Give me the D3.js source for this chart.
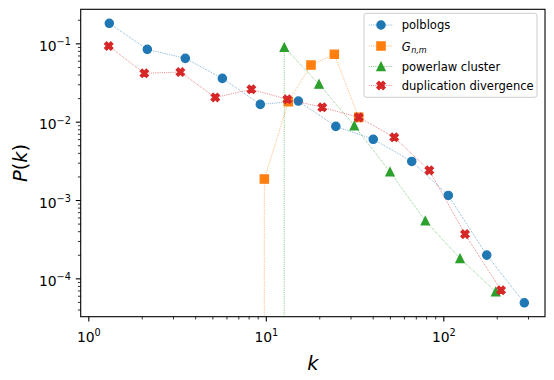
<!DOCTYPE html>
<html><head><meta charset="utf-8">
<script src="https://cdn.jsdelivr.net/npm/d3@7"></script>
<style>body{margin:0;background:#fff} svg{display:block}</style>
</head><body><svg id="c" width="554" height="380"></svg>
<script>
// ---- data ----
const polblogsK = [1.313, 2.15, 3.52, 5.69, 9.31, 15.25, 24.8, 40.3, 66.4, 106.7, 175.7, 285.9];
const polblogsP = [0.180, 0.0838, 0.0643, 0.0357, 0.01663, 0.01832, 0.00871, 0.00596, 0.00311, 0.001145, 0.000198, 4.87e-5];
const gnmK = [7.22, 9.81, 13.39, 17.97, 24.32, 33.38];
const gnmP = [0, 0.00185, 0.01795, 0.0528, 0.0724, 0.01135];
const plcK = [8.05, 12.71, 19.94, 31.5, 50.1, 79.2, 124.2, 197.4];
const plcP = [0, 0.0889, 0.0302, 0.00887, 0.00229, 0.000542, 0.0001795, 6.73e-5];
const ddK = [1.303, 2.068, 3.30, 5.19, 8.29, 13.22, 20.8, 33.4, 52.9, 83.4, 132.5, 211.4];
const ddP = [0.0924, 0.0414, 0.0430, 0.0204, 0.0259, 0.0193, 0.01524, 0.01135, 0.00632, 0.00239, 0.000367, 7.06e-5];
const seriesNames = ["polblogs", "G", "powerlaw cluster", "duplication divergence"];
const xTickValues = [1, 10, 100];
const xTickExponents = ["0", "1", "2"];
const yTickValues = [1e-4, 1e-3, 1e-2, 1e-1];
const yTickExponents = ["\u22124", "\u22123", "\u22122", "\u22121"];
const xDomain = [0.906, 374];
const yDomain = [3.24e-5, 0.272];

// ---- layout ----
const L = 80.7, R = 545, T = 9.3, B = 316.7;
const svg = d3.select("#c");
const FONT = "DejaVu Sans, sans-serif";
const x = d3.scaleLog().domain(xDomain).range([L, R]);
const y = d3.scaleLog().domain(yDomain).range([B, T]);

const colors = ["#1f77b4", "#ff7f0e", "#2ca02c", "#d62728"];
const shapes = ["circle", "square", "triangle", "x"];
const series = [
  {k: polblogsK, p: polblogsP},
  {k: gnmK, p: gnmP},
  {k: plcK, p: plcP},
  {k: ddK, p: ddP}
];

const MS = 8.33; // marker size px
function markerPath(shape, s) {
  const h = s / 2;
  if (shape === "circle") return `M${h},0A${h},${h} 0 1,1 ${-h},0A${h},${h} 0 1,1 ${h},0Z`;
  if (shape === "square") return `M${-h},${-h}H${h}V${h}H${-h}Z`;
  if (shape === "triangle") return `M0,${-h}L${h},${h}L${-h},${h}Z`;
  const v = [[-1,-2],[0,-1],[1,-2],[2,-1],[1,0],[2,1],[1,2],[0,1],[-1,2],[-2,1],[-1,0],[-2,-1]];
  return "M" + v.map(d => [d[0]*s/4, d[1]*s/4].join(",")).join("L") + "Z";
}

svg.append("defs").append("clipPath").attr("id", "clip")
  .append("rect").attr("x", L).attr("y", T).attr("width", R - L).attr("height", B - T);

const plot = svg.append("g").attr("clip-path", "url(#clip)");
const yv = p => p > 0 ? y(p) : B + 1e5;

series.forEach((s, i) => {
  const pts = s.k.map((k, j) => [x(k), yv(s.p[j])]);
  plot.append("path")
    .attr("d", d3.line()(pts))
    .attr("fill", "none").attr("stroke", colors[i])
    .attr("stroke-width", 0.7).attr("stroke-dasharray", "0.7,1.15");
  plot.append("g").selectAll("path")
    .data(s.k.map((k, j) => [k, s.p[j]]).filter(d => d[1] > 0))
    .join("path")
    .attr("transform", d => `translate(${x(d[0])},${y(d[1])})`)
    .attr("d", markerPath(shapes[i], MS))
    .attr("fill", colors[i]).attr("stroke", colors[i]).attr("stroke-width", 1.2)
    .attr("stroke-linejoin", shapes[i] === "circle" ? "round" : "miter");
});

// ---- axes ----
function minorTicks(lo, hi) {
  const out = [];
  for (let e = -6; e <= 3; e++) for (let m = 2; m <= 9; m++) {
    const v = m * Math.pow(10, e);
    if (v >= lo && v <= hi) out.push(v);
  }
  return out;
}
const xMinor = svg.append("g").attr("transform", `translate(0,${B})`)
  .call(d3.axisBottom(x).tickValues(minorTicks(xDomain[0], xDomain[1])).tickFormat("").tickSizeInner(2.8).tickSizeOuter(0));
const xMajor = svg.append("g").attr("transform", `translate(0,${B})`)
  .call(d3.axisBottom(x).tickValues(xTickValues).tickSizeInner(4.9).tickSizeOuter(0).tickPadding(4.9));
const yMinor = svg.append("g").attr("transform", `translate(${L},0)`)
  .call(d3.axisLeft(y).tickValues(minorTicks(yDomain[0], yDomain[1])).tickFormat("").tickSizeInner(2.8).tickSizeOuter(0));
const yMajor = svg.append("g").attr("transform", `translate(${L},0)`)
  .call(d3.axisLeft(y).tickValues(yTickValues).tickSizeInner(4.9).tickSizeOuter(0).tickPadding(4.9));
[xMinor, xMajor, yMinor, yMajor].forEach(g => {
  g.select(".domain").remove();
  g.selectAll("line").attr("stroke", "#000");
});
xMinor.selectAll("line").attr("stroke-width", 0.8);
yMinor.selectAll("line").attr("stroke-width", 0.8);
xMajor.selectAll("line").attr("stroke-width", 1.1);
yMajor.selectAll("line").attr("stroke-width", 1.1);

xMajor.selectAll("text").each(function(d, i) {
  const t = d3.select(this);
  t.text(null).attr("dy", null).attr("y", 342).attr("transform", `translate(0,${-B})`)
    .attr("font-family", FONT).attr("font-size", 13.9).attr("fill", "#000").attr("text-anchor", "middle");
  t.append("tspan").text("10");
  t.append("tspan").attr("dy", -5.8).attr("font-size", 9.7).text(xTickExponents[i]);
});
yMajor.selectAll("text").each(function(d, i) {
  const t = d3.select(this);
  t.text(null).attr("dy", 7.3)
    .attr("font-family", FONT).attr("font-size", 13.9).attr("fill", "#000").attr("text-anchor", "end");
  t.append("tspan").text("10");
  t.append("tspan").attr("dy", -5.8).attr("font-size", 9.7).text(yTickExponents[i]);
});

// spines
svg.append("rect").attr("x", L).attr("y", T).attr("width", R - L).attr("height", B - T)
  .attr("fill", "none").attr("stroke", "#000").attr("stroke-width", 1.1);

// axis labels
svg.append("text").attr("x", (L + R) / 2).attr("y", 370).attr("text-anchor", "middle")
  .attr("font-family", FONT).attr("font-style", "italic").attr("font-size", 19.4).text("k");
const yl = svg.append("text").attr("transform", `translate(27,${(T + B) / 2}) rotate(-90)`)
  .attr("text-anchor", "middle").attr("font-family", FONT).attr("font-size", 19.4);
yl.append("tspan").attr("font-style", "italic").text("P");
yl.append("tspan").text("(");
yl.append("tspan").attr("font-style", "italic").text("k");
yl.append("tspan").text(")");

// ---- legend ----
const lg = svg.append("g");
lg.append("rect").attr("x", 364).attr("y", 13.3).attr("width", 173).attr("height", 84)
  .attr("rx", 2.5).attr("fill", "#fff").attr("fill-opacity", 0.8)
  .attr("stroke", "#cccccc").attr("stroke-width", 1);
const rowY = [25, 46, 66.5, 85.5];
seriesNames.forEach((name, i) => {
  const cy = rowY[i];
  lg.append("line").attr("x1", 369.3).attr("x2", 392.7).attr("y1", cy).attr("y2", cy)
    .attr("stroke", colors[i]).attr("stroke-width", 0.7).attr("stroke-dasharray", "0.7,1.15");
  lg.append("path").attr("transform", `translate(381,${cy})`).attr("d", markerPath(shapes[i], MS))
    .attr("fill", colors[i]).attr("stroke", colors[i]).attr("stroke-width", 1.2);
  const t = lg.append("text").attr("x", 401.7).attr("y", cy + 4.2)
    .attr("font-family", FONT).attr("font-size", 11.57).attr("fill", "#000");
  if (i === 1) {
    t.attr("y", cy + 4.6);
    t.append("tspan").attr("font-style", "italic").text(name);
    t.append("tspan").attr("font-style", "italic").attr("font-size", 8.1).attr("dy", 2).attr("dx", 0.5).text("n,m");
  } else {
    t.text(name);
  }
});
</script>
</body></html>
